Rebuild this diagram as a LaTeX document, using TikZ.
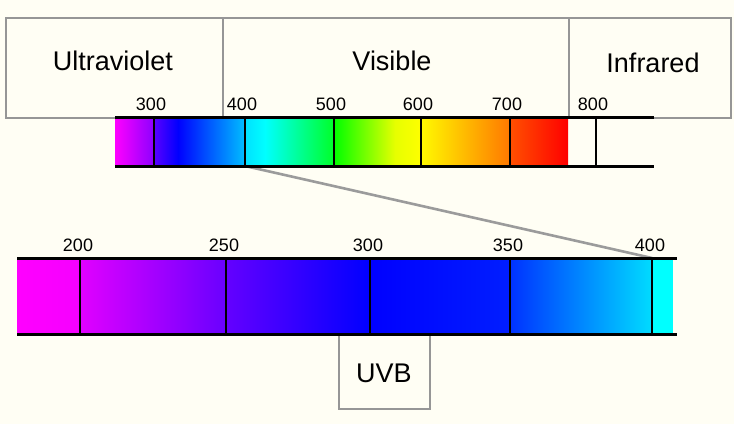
\documentclass[tikz,border=0pt]{standalone}
\usepackage{fontspec}
\setmainfont{Liberation Sans}
\definecolor{bg}{RGB}{255,254,244}
\definecolor{boxgray}{RGB}{150,150,150}
\definecolor{linkgray}{RGB}{155,155,155}
\definecolor{cyanend}{RGB}{0,255,255}
\begin{document}
\begin{tikzpicture}[x=1pt,y=-1pt,
  regionbox/.style={draw=boxgray, line width=2.2pt, fill=bg, inner sep=0pt, anchor=north west},
  boxtext/.style={font=\fontsize{27}{27}\selectfont, inner sep=0pt},
  lbl/.style={font=\fontsize{18}{18}\selectfont, anchor=base, inner sep=0pt},
  tickline/.style={line width=2.8pt, black},
  barline/.style={line width=3pt, black},
  zoomline/.style={draw=linkgray, line width=2.6pt}]
\useasboundingbox (0,0) rectangle (734,424);
\fill[bg] (0,0) rectangle (734,424);

% region boxes
\node[regionbox, minimum width=217pt, minimum height=100pt] (uvbox) at (5,17) {};
\node[regionbox, minimum width=346pt, minimum height=100pt] (visbox) at (222,17) {};
\node[regionbox, minimum width=162pt, minimum height=100pt] (irbox) at (568,17) {};
\node[boxtext] (uvtext) at (113,61) {Ultraviolet};
\node[boxtext] (vistext) at (392,61) {Visible};
\node[boxtext] (irtext) at (653,63) {Infrared};

% top spectrum shading
\shade[left color={rgb,255:red,255;green,0;blue,255}, right color={rgb,255:red,140;green,0;blue,255}] (115,117) rectangle (154,166);
\shade[left color={rgb,255:red,90;green,0;blue,255}, right color={rgb,255:red,0;green,0;blue,255}] (154,117) rectangle (178,166);
\shade[left color={rgb,255:red,0;green,0;blue,255}, right color={rgb,255:red,0;green,190;blue,255}] (178,117) rectangle (245,166);
\shade[left color={rgb,255:red,0;green,225;blue,255}, right color={rgb,255:red,0;green,255;blue,255}] (245,117) rectangle (265,166);
\shade[left color={rgb,255:red,0;green,255;blue,255}, right color={rgb,255:red,0;green,255;blue,40}] (265,117) rectangle (334,166);
\shade[left color={rgb,255:red,0;green,255;blue,0}, right color={rgb,255:red,230;green,255;blue,0}] (334,117) rectangle (395,166);
\shade[left color={rgb,255:red,230;green,255;blue,0}, right color={rgb,255:red,255;green,255;blue,0}] (395,117) rectangle (421,166);
\shade[left color={rgb,255:red,255;green,250;blue,0}, right color={rgb,255:red,255;green,120;blue,0}] (421,117) rectangle (510,166);
\shade[left color={rgb,255:red,255;green,80;blue,0}, right color={rgb,255:red,255;green,0;blue,0}] (510,117) rectangle (568,166);

% bottom spectrum shading
\shade[left color={rgb,255:red,255;green,0;blue,255}, right color={rgb,255:red,245;green,0;blue,255}] (17,258) rectangle (80,334);
\shade[left color={rgb,255:red,225;green,0;blue,255}, right color={rgb,255:red,105;green,0;blue,255}] (80,258) rectangle (226,334);
\shade[left color={rgb,255:red,100;green,0;blue,255}, right color={rgb,255:red,0;green,0;blue,255}] (226,258) rectangle (370,334);
\shade[left color={rgb,255:red,0;green,0;blue,255}, right color={rgb,255:red,0;green,30;blue,255}] (370,258) rectangle (510,334);
\shade[left color={rgb,255:red,0;green,50;blue,255}, right color={rgb,255:red,0;green,220;blue,255}] (510,258) rectangle (652,334);
\fill[cyanend] (652,258) rectangle (673,334);

% zoom connector
\coordinate (topfour) at (245,166);
\coordinate (botfour) at (652,258);
\draw[zoomline] (topfour) -- (botfour);

% bar lines
\draw[barline] (115,117) -- (654,117);
\draw[barline] (115,166) -- (654,166);
\draw[barline] (17,258) -- (677,258);

% top ticks and labels
\foreach \x/\t in {154/300, 245/400, 334/500, 421/600, 510/700, 596/800}{
  \draw[tickline] (\x,117) -- (\x,166);
  \node[lbl] (top\t) at (\x-3,110) {\t};
}
% bottom ticks and labels
\foreach \x/\t in {80/200, 226/250, 370/300, 510/350, 652/400}{
  \draw[tickline] (\x,258) -- (\x,334);
  \node[lbl] (bot\t) at (\x-2,251) {\t};
}

% UVB box
\node[regionbox, minimum width=91pt, minimum height=74pt] (uvbbox) at (338,334) {};
\node[boxtext] (uvbtext) at (384,373) {UVB};
\draw[barline] (17,334) -- (677,334);
\end{tikzpicture}
\end{document}
